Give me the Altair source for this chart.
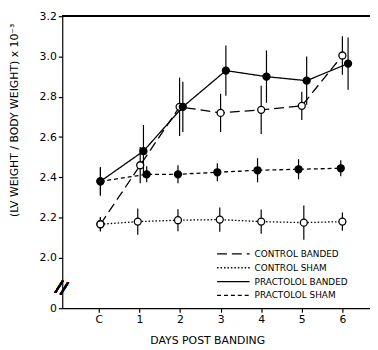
import altair as alt
import pandas as pd

series_names = ["CONTROL BANDED", "CONTROL SHAM", "PRACTOLOL BANDED", "PRACTOLOL SHAM"]
day_labels = ["C", "1", "2", "3", "4", "5", "6"]

cb_x = [0.04, 1.02, 1.99, 3.0, 4.0, 5.0, 6.0]
cb_y = [2.167, 2.46, 2.75, 2.72, 2.735, 2.755, 3.005]
cb_err = [0.035, 0.09, 0.145, 0.095, 0.12, 0.07, 0.095]

cs_x = [0.04, 0.96, 1.95, 2.98, 4.0, 5.05, 6.0]
cs_y = [2.167, 2.18, 2.187, 2.19, 2.18, 2.175, 2.18]
cs_err = [0.035, 0.065, 0.055, 0.06, 0.06, 0.085, 0.045]

pb_x = [0.04, 1.10, 2.07, 3.13, 4.13, 5.12, 6.14]
pb_y = [2.38, 2.53, 2.75, 2.93, 2.90, 2.88, 2.965]
pb_err = [0.07, 0.13, 0.125, 0.125, 0.13, 0.12, 0.13]

ps_x = [0.04, 1.18, 1.95, 2.92, 3.91, 4.92, 5.96]
ps_y = [2.38, 2.415, 2.415, 2.425, 2.435, 2.44, 2.445]
ps_err = [0.07, 0.04, 0.045, 0.045, 0.06, 0.05, 0.04]

y_ticks = [1.75, 2.0, 2.2, 2.4, 2.6, 2.8, 3.0, 3.2]

rows = []
for name, xs, ys, es in zip(series_names, [cb_x, cs_x, pb_x, ps_x],
                            [cb_y, cs_y, pb_y, ps_y], [cb_err, cs_err, pb_err, ps_err]):
    for x, y, e in zip(xs, ys, es):
        rows.append({"series": name, "x": x, "y": y, "lo": y - e, "hi": y + e})
df = pd.DataFrame(rows)
legend_df = pd.DataFrame({"series": series_names, "row": list(range(len(series_names)))})

FONT = "DejaVu Sans"
label_js = "[" + ",".join("'%s'" % d for d in day_labels) + "][datum.value]"

xscale = alt.Scale(domain=[-0.9, 6.68], nice=False, zero=False)
yscale = alt.Scale(domain=[1.75, 3.2], nice=False, zero=False)
dash_scale = alt.Scale(domain=series_names, range=[[10, 5], [1.5, 2], [1, 0], [4, 3]])

xaxis = alt.Axis(values=list(range(7)), labelExpr=label_js, title="DAYS POST BANDING",
                 grid=False, tickSize=4, labelPadding=2, titleX=147, titleY=33,
                 titleBaseline="middle", titleAlign="center")
yaxis = alt.Axis(values=y_ticks,
                 labelExpr="datum.value < 1.9 ? '0' : format(datum.value, '.1f')",
                 title="(LV WEIGHT / BODY WEIGHT) x 10⁻³", grid=False, tickSize=4,
                 labelPadding=2, titleX=-48, titleY=105, titleAngle=270,
                 titleAlign="center", titleBaseline="middle")

base = alt.Chart(df)

lines = base.mark_line(color="black", strokeWidth=1.3).encode(
    x=alt.X("x:Q", scale=xscale, axis=xaxis),
    y=alt.Y("y:Q", scale=yscale, axis=yaxis),
    strokeDash=alt.StrokeDash("series:N", scale=dash_scale, legend=None),
    detail="series:N",
)

errs = base.mark_rule(color="black", strokeWidth=1.2).encode(
    x="x:Q", y="lo:Q", y2="hi:Q")

points = base.mark_point(shape="circle", size=50, stroke="black", strokeWidth=1.3,
                         opacity=1, filled=False).encode(
    x="x:Q", y="y:Q",
    fill=alt.Fill("series:N", scale=alt.Scale(domain=series_names,
                                              range=["white", "white", "black", "black"]),
                  legend=None),
)

top = alt.Chart(df).mark_rule(color="black", strokeWidth=1.2).encode(y=alt.datum(3.2))

brk = alt.Chart(df).mark_text(text="//", fontSize=17, font=FONT, angle=15).encode(
    x=alt.datum(-0.92), y=alt.datum(1.85))

main = alt.layer(lines, errs, points, top, brk)

leg_y = alt.Y("row:Q", scale=alt.Scale(domain=[0, 3], range=[241, 283], nice=False, zero=False),
              axis=None)
leg_lines = alt.Chart(legend_df).mark_rule(color="black", strokeWidth=1.3).encode(
    x=alt.value(157), x2=alt.value(190), y=leg_y,
    strokeDash=alt.StrokeDash("series:N", scale=dash_scale, legend=None),
)
leg_text = alt.Chart(legend_df).mark_text(align="left", baseline="middle", fontSize=9,
                                          font=FONT, color="black").encode(
    x=alt.value(195), y=leg_y, text="series:N")
legend = alt.layer(leg_lines, leg_text)

chart = alt.layer(main, legend).resolve_scale(y="independent").properties(
    width=312, height=296,
    autosize=alt.AutoSizeParams(type="none"),
    padding={"left": 55, "top": 6, "right": 0, "bottom": 38},
).configure_view(stroke=None).configure_axis(
    labelFont=FONT, titleFont=FONT, labelFontSize=11, titleFontSize=11,
    titleFontWeight="normal", labelColor="black", titleColor="black",
    domainColor="black", tickColor="black", domainWidth=1.2, tickWidth=1.2,
)

chart.save("out.html", embed_options={"renderer": "svg", "actions": False})
